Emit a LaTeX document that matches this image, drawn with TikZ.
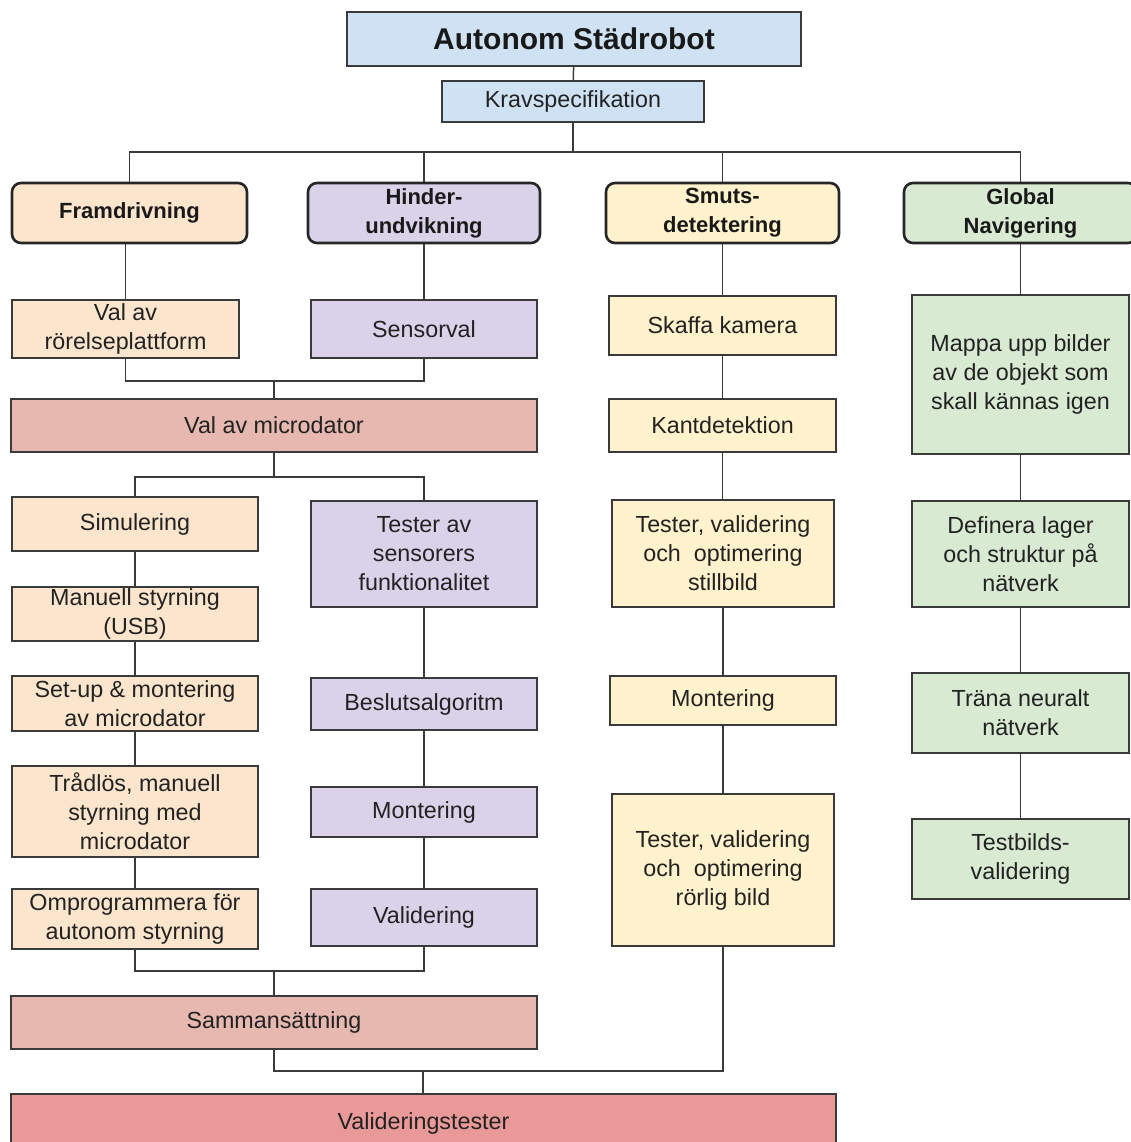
\documentclass[tikz,border=0pt]{standalone}
\usepackage{fontspec}
\setmainfont{Liberation Sans}
\definecolor{cblue}{HTML}{CFE2F3}
\definecolor{corange}{HTML}{FCE5CD}
\definecolor{cpurple}{HTML}{D9D2E9}
\definecolor{cyellow}{HTML}{FFF2CC}
\definecolor{cgreen}{HTML}{D9EAD3}
\definecolor{crose}{HTML}{E6B8AF}
\definecolor{cred}{HTML}{EA9999}
\definecolor{linec}{HTML}{3A3A3A}
\definecolor{textc}{HTML}{222222}
% box: style, name, x1, y1, x2, y2, text
\newcommand{\bx}[7]{\node[#1, minimum width={(#5-#3)*1pt}, minimum height={(#6-#4)*1pt}] (#2) at ({(#3+#5)/2},{(#4+#6)/2}) {#7};}
\begin{document}
\begin{tikzpicture}[x=1pt,y=-1pt,
  box/.style={draw=linec, line width=1.3pt, inner sep=0pt, align=center, text=textc,
    font=\fontsize{23.3}{29}\selectfont},
  head/.style={box, draw=black!85, line width=2.6pt, rounded corners=9pt,
    font=\fontsize{22}{29}\selectfont\bfseries, text=black!90},
  wire/.style={draw=linec, line width=1.5pt}]
\useasboundingbox (0,0) rectangle (1131,1142);
\fill[white] (0,0) rectangle (1131,1142);

% top of the tree
\bx{box, fill=cblue, font=\fontsize{30}{36}\selectfont\bfseries, text=black!90}{title}{347}{12}{801}{66}{Autonom Städrobot}
\bx{box, fill=cblue}{krav}{442}{81}{704}{122}{Kravspecifikation}

% four work packages
\bx{head, fill=corange}{fram}{12}{183}{247}{243}{Framdrivning}
\bx{head, fill=cpurple}{hind}{308}{183}{540}{243}{Hinder-\\undvikning}
\bx{head, fill=cyellow}{smuts}{606}{183}{839}{243}{Smuts-\\detektering}
\bx{head, fill=cgreen}{glob}{904}{183}{1137}{243}{Global\\Navigering}

% propulsion and obstacle avoidance
\bx{box, fill=corange}{rorelse}{12}{300}{239}{358}{Val av\\rörelseplattform}
\bx{box, fill=cpurple}{sensorval}{311}{300}{537}{358}{Sensorval}
\bx{box, fill=crose}{micro}{11}{399}{537}{452}{Val av microdator}
\bx{box, fill=corange}{sim}{12}{497}{258}{551}{Simulering}
\bx{box, fill=corange}{manuell}{12}{587}{258}{641}{Manuell styrning\\(USB)}
\bx{box, fill=corange}{setup}{12}{676}{258}{731}{Set-up \& montering\\av microdator}
\bx{box, fill=corange}{tradlos}{12}{766}{258}{857}{Trådlös, manuell\\styrning med\\microdator}
\bx{box, fill=corange}{ompro}{12}{889}{258}{949}{Omprogrammera för\\autonom styrning}
\bx{box, fill=cpurple}{sensortest}{311}{501}{537}{607}{Tester av\\sensorers\\funktionalitet}
\bx{box, fill=cpurple}{beslut}{311}{678}{537}{730}{Beslutsalgoritm}
\bx{box, fill=cpurple}{mont}{311}{787}{537}{837}{Montering}
\bx{box, fill=cpurple}{valid}{311}{889}{537}{946}{Validering}
\bx{box, fill=crose}{samman}{11}{996}{537}{1049}{Sammansättning}
\bx{box, fill=cred}{valtest}{11}{1094}{836}{1152}{Valideringstester}

% dirt detection
\bx{box, fill=cyellow}{kamera}{609}{296}{836}{355}{Skaffa kamera}
\bx{box, fill=cyellow}{kant}{609}{399}{836}{452}{Kantdetektion}
\bx{box, fill=cyellow}{still}{612}{500}{834}{607}{Tester, validering\\och \ optimering\\stillbild}
\bx{box, fill=cyellow}{montsm}{610}{676}{836}{725}{Montering}
\bx{box, fill=cyellow}{rorlig}{612}{794}{834}{946}{Tester, validering\\och \ optimering\\rörlig bild}

% global navigation
\bx{box, fill=cgreen}{mappa}{912}{295}{1129}{454}{Mappa upp bilder\\av de objekt som\\skall kännas igen}
\bx{box, fill=cgreen}{definera}{912}{501}{1129}{607}{Definera lager\\och struktur på\\nätverk}
\bx{box, fill=cgreen}{trana}{912}{673}{1129}{753}{Träna neuralt\\nätverk}
\bx{box, fill=cgreen}{testbild}{912}{819}{1129}{899}{Testbilds-\\validering}

% junction points
\coordinate (bus) at (573,152);
\coordinate (j1) at (274,381);
\coordinate (j2) at (274,477);
\coordinate (j3) at (274,971);
\coordinate (j4) at (423,1071);

% connectors
\draw[wire] (title) -- (krav);
\draw[wire] (krav.south) -- (bus);
\draw[wire] (fram.north) |- (bus) -| (glob.north);
\draw[wire] (hind.north) -- (hind.north |- bus);
\draw[wire] (smuts.north) -- (smuts.north |- bus);

\draw[wire] (rorelse.north) -- (rorelse.north |- fram.south);
\draw[wire] (sensorval.north) -- (sensorval.north |- hind.south);
\draw[wire] (rorelse.south) |- (j1) -| (sensorval.south);
\draw[wire] (j1) -- (micro.north);
\draw[wire] (micro.south) -- (j2);
\draw[wire] (sim.north) |- (j2) -| (sensortest.north);

\draw[wire] (sim) -- (manuell);
\draw[wire] (manuell) -- (setup);
\draw[wire] (setup) -- (tradlos);
\draw[wire] (tradlos) -- (ompro);
\draw[wire] (sensortest) -- (beslut);
\draw[wire] (beslut) -- (mont);
\draw[wire] (mont) -- (valid);
\draw[wire] (ompro.south) |- (j3) -| (valid.south);
\draw[wire] (j3) -- (samman.north);
\draw[wire] (samman.south) |- (j4);
\draw[wire] (rorlig.south) |- (j4);
\draw[wire] (j4) -- (j4 |- valtest.north);

\draw[wire] (smuts.south) -- (smuts.south |- kamera.north);
\draw[wire] (kamera.south) -- (kamera.south |- kant.north);
\draw[wire] (kant.south) -- (kant.south |- still.north);
\draw[wire] (still.south) -- (still.south |- montsm.north);
\draw[wire] (montsm.south) -- (montsm.south |- rorlig.north);

\draw[wire] (glob.south -| mappa.north) -- (mappa.north);
\draw[wire] (mappa) -- (definera);
\draw[wire] (definera) -- (trana);
\draw[wire] (trana) -- (testbild);
\end{tikzpicture}
\end{document}
